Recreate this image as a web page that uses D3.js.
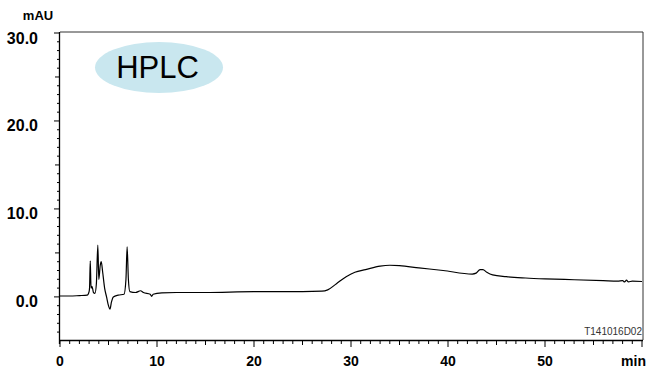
<!DOCTYPE html>
<html><head><meta charset="utf-8">
<script src="https://cdn.jsdelivr.net/npm/d3@7"></script>
<style>body{margin:0;background:#fff}svg{display:block}</style>
</head><body>
<svg id="c" width="646" height="373"></svg>
<script>
const time = [0,1,2,2.8,3.0,3.05,3.12,3.2,3.3,3.45,3.6,3.75,3.9,4.0,4.15,4.25,4.4,4.6,4.8,5.0,5.15,5.3,5.5,6.0,6.6,6.8,6.92,7.05,7.2,7.8,8.3,8.6,9.3,9.45,9.6,10.5,12,15,20,25,27,27.6,28.5,29.5,30.4,31.5,33,34,35,37,39.5,42.5,42.9,43.3,43.6,44,44.6,46,48,50,53,56,57.5,58.0,58.2,58.4,58.6,59,60];
const absorbance = [0.1,0.1,0.15,0.2,0.6,1.1,4.1,1.0,1.2,0.5,0.4,1.5,5.9,2.0,3.6,4.0,2.8,1.0,0.0,-1.0,-1.4,-0.6,0.0,0.2,0.3,2.0,5.7,2.0,0.6,0.5,0.7,0.5,0.3,0.05,0.3,0.45,0.5,0.5,0.6,0.6,0.65,0.8,1.5,2.3,2.8,3.1,3.5,3.6,3.55,3.3,3.0,2.6,2.7,3.1,3.1,2.8,2.5,2.3,2.15,2.05,1.95,1.85,1.8,1.85,1.7,1.9,1.7,1.8,1.75];
const xTicks = [0,10,20,30,40,50];
const yTicks = [0,10,20,30];

const svg = d3.select("#c");
const L=60, R=643, T=32, B=340;
const FONT = "Liberation Sans, Arial, sans-serif";
const x = d3.scaleLinear().domain([0,60]).range([L,642]);
const y = d3.scaleLinear().domain([-4.9,30]).range([B,33]);

// frame top/right
svg.append("path").attr("d",`M${L},${T}H${R}V${B}`).attr("fill","none").attr("stroke","#333").attr("stroke-width",1);

// x axis
const minorX = d3.range(0,61,1);
svg.append("g").selectAll("line").data(minorX).join("line")
  .attr("x1",d=>x(d)).attr("x2",d=>x(d)).attr("y1",B)
  .attr("y2",d=>B+(d%10===0?7:(d%5===0?5:4))).attr("stroke","#000").attr("stroke-width",1);
svg.append("line").attr("x1",L).attr("x2",R).attr("y1",B+0.5).attr("y2",B+0.5).attr("stroke","#000").attr("stroke-width",1.3);
svg.append("g").selectAll("text").data(xTicks).join("text")
  .attr("x",d=>x(d)).attr("y",366).attr("text-anchor","middle")
  .attr("font-family",FONT).attr("font-weight","bold").attr("font-size",14)
  .text(d=>d);
svg.append("text").attr("x",646).attr("y",366).attr("text-anchor","end")
  .attr("font-family",FONT).attr("font-weight","bold").attr("font-size",14).text("min");

// y axis
const minorY = d3.range(-4,31,1);
svg.append("g").selectAll("line").data(minorY).join("line")
  .attr("y1",d=>y(d)).attr("y2",d=>y(d)).attr("x1",L)
  .attr("x2",d=>L-(d%10===0?6:(d%5===0?5:3))).attr("stroke","#000").attr("stroke-width",1);
svg.append("line").attr("x1",L-0.5).attr("x2",L-0.5).attr("y1",T).attr("y2",B+4).attr("stroke","#000").attr("stroke-width",1.3);
svg.append("g").selectAll("text").data(yTicks).join("text")
  .attr("x",38).attr("y",d=>y(d)+10.5).attr("text-anchor","end")
  .attr("font-family",FONT).attr("font-weight","bold").attr("font-size",16)
  .text(d=>d.toFixed(1));
svg.append("text").attr("x",38).attr("y",20).attr("text-anchor","middle")
  .attr("font-family",FONT).attr("font-weight","bold").attr("font-size",13).text("mAU");

// HPLC label
svg.append("ellipse").attr("cx",159).attr("cy",67.5).attr("rx",64).attr("ry",25.5).attr("fill","#c9e7ef");
svg.append("text").attr("x",157.5).attr("y",78).attr("text-anchor","middle")
  .attr("font-family",FONT).attr("font-size",31).text("HPLC");

// file id
svg.append("text").attr("x",642).attr("y",335).attr("text-anchor","end")
  .attr("font-family",FONT).attr("font-size",10).attr("fill","#333").text("T141016D02");

// trace
const pts = time.map((t,i)=>[t,absorbance[i]]);
svg.append("path").datum(pts)
  .attr("d",d3.line().x(d=>x(d[0])).y(d=>y(d[1])).curve(d3.curveMonotoneX))
  .attr("fill","none").attr("stroke","#000").attr("stroke-width",1.2);
</script>
</body></html>
